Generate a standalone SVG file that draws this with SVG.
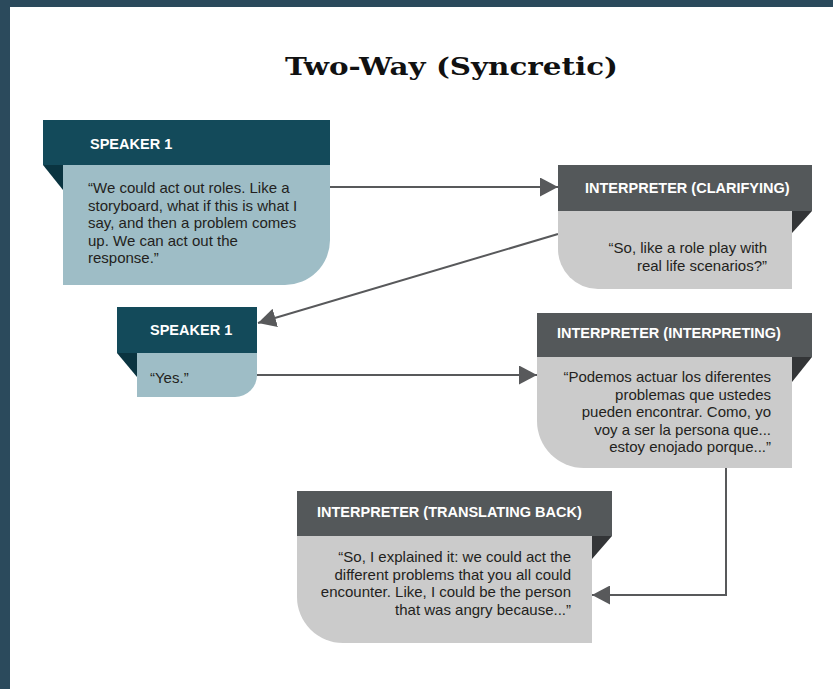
<svg xmlns="http://www.w3.org/2000/svg" width="833" height="689" viewBox="0 0 833 689">
<style>
.hdr-t{fill:#134a5a}
.body-t{fill:#9ebdc6}
.fold-t{fill:#0a3440}
.hdr-g{fill:#54585a}
.body-g{fill:#cbcbcb}
.fold-g{fill:#333537}
.ht{font-family:"Liberation Sans",Arial,sans-serif;font-weight:bold;font-size:14.5px;fill:#ffffff}
.bt{font-family:"Liberation Sans",Arial,sans-serif;font-size:15px;fill:#231f20}
.r{text-anchor:end}
.conn{fill:none;stroke:#58595b;stroke-width:2}
</style>
<defs>
<marker id="ah" markerUnits="userSpaceOnUse" markerWidth="18" markerHeight="19" refX="18" refY="9.5" orient="auto">
<path d="M0,0 L18,9.5 L0,19 Z" fill="#58595b"/>
</marker>
</defs>
<rect x="0" y="0" width="833" height="689" fill="#ffffff"/>
<rect x="0" y="0" width="833" height="7" fill="#2b4a5c"/>
<rect x="0" y="0" width="10" height="689" fill="#2b4a5c"/>
<text x="451.5" y="75" text-anchor="middle" font-family="'DejaVu Serif','Liberation Serif',serif" font-weight="bold" font-size="25" textLength="333" lengthAdjust="spacingAndGlyphs" fill="#111111">Two-Way (Syncretic)</text>

<g id="connectors">
<line class="conn" x1="330" y1="187" x2="558" y2="187" marker-end="url(#ah)"/>
<line class="conn" x1="558" y1="234" x2="258" y2="323" marker-end="url(#ah)"/>
<line class="conn" x1="257" y1="375" x2="537" y2="375" marker-end="url(#ah)"/>
<polyline class="conn" points="726,468 726,595 592,595" marker-end="url(#ah)"/>
</g>

<g id="speaker1-a">
<rect class="hdr-t" x="43" y="120" width="287" height="45"/>
<polygon class="fold-t" points="43,165 63,165 63,190"/>
<path class="body-t" d="M63,165 H330 V240 A45,45 0 0 1 285,285 H63 Z"/>
<text class="ht" x="90" y="149">SPEAKER 1</text>
<text class="bt" x="88" y="193">“We could act out roles. Like a</text>
<text class="bt" x="88" y="210.5">storyboard, what if this is what I</text>
<text class="bt" x="88" y="228">say, and then a problem comes</text>
<text class="bt" x="88" y="245.5">up. We can act out the</text>
<text class="bt" x="88" y="263">response.”</text>
</g>

<g id="interpreter-clarifying">
<rect class="hdr-g" x="558" y="165" width="254" height="46"/>
<polygon class="fold-g" points="792,211 812,211 792,233"/>
<path class="body-g" d="M558,211 H792 V289 H598 A40,40 0 0 1 558,249 Z"/>
<text class="ht" x="585" y="193">INTERPRETER (CLARIFYING)</text>
<text class="bt r" x="767" y="253">“So, like a role play with</text>
<text class="bt r" x="767" y="271">real life scenarios?”</text>
</g>

<g id="speaker1-b">
<rect class="hdr-t" x="117" y="307" width="140" height="46"/>
<polygon class="fold-t" points="117,353 137,353 137,377"/>
<path class="body-t" d="M137,353 H257 V375 A22,22 0 0 1 235,397 H137 Z"/>
<text class="ht" x="150" y="335">SPEAKER 1</text>
<text class="bt" x="150" y="383">“Yes.”</text>
</g>

<g id="interpreter-interpreting">
<rect class="hdr-g" x="537" y="313" width="275" height="44"/>
<polygon class="fold-g" points="792,357 812,357 792,382"/>
<path class="body-g" d="M537,357 H792 V468 H584 A47,47 0 0 1 537,421 Z"/>
<text class="ht" x="557" y="338">INTERPRETER (INTERPRETING)</text>
<text class="bt r" x="771" y="382">“Podemos actuar los diferentes</text>
<text class="bt r" x="771" y="399.5">problemas que ustedes</text>
<text class="bt r" x="771" y="417">pueden encontrar. Como, yo</text>
<text class="bt r" x="771" y="434.5">voy a ser la persona que...</text>
<text class="bt r" x="771" y="452">estoy enojado porque...”</text>
</g>

<g id="interpreter-translating-back">
<rect class="hdr-g" x="297" y="491" width="315" height="45"/>
<polygon class="fold-g" points="592,536 612,536 592,559"/>
<path class="body-g" d="M297,536 H592 V643 H343 A46,46 0 0 1 297,597 Z"/>
<text class="ht" x="317" y="517">INTERPRETER (TRANSLATING BACK)</text>
<text class="bt r" x="571" y="562">“So, I explained it: we could act the</text>
<text class="bt r" x="571" y="579.5">different problems that you all could</text>
<text class="bt r" x="571" y="597">encounter. Like, I could be the person</text>
<text class="bt r" x="571" y="614.5">that was angry because...”</text>
</g>
</svg>
